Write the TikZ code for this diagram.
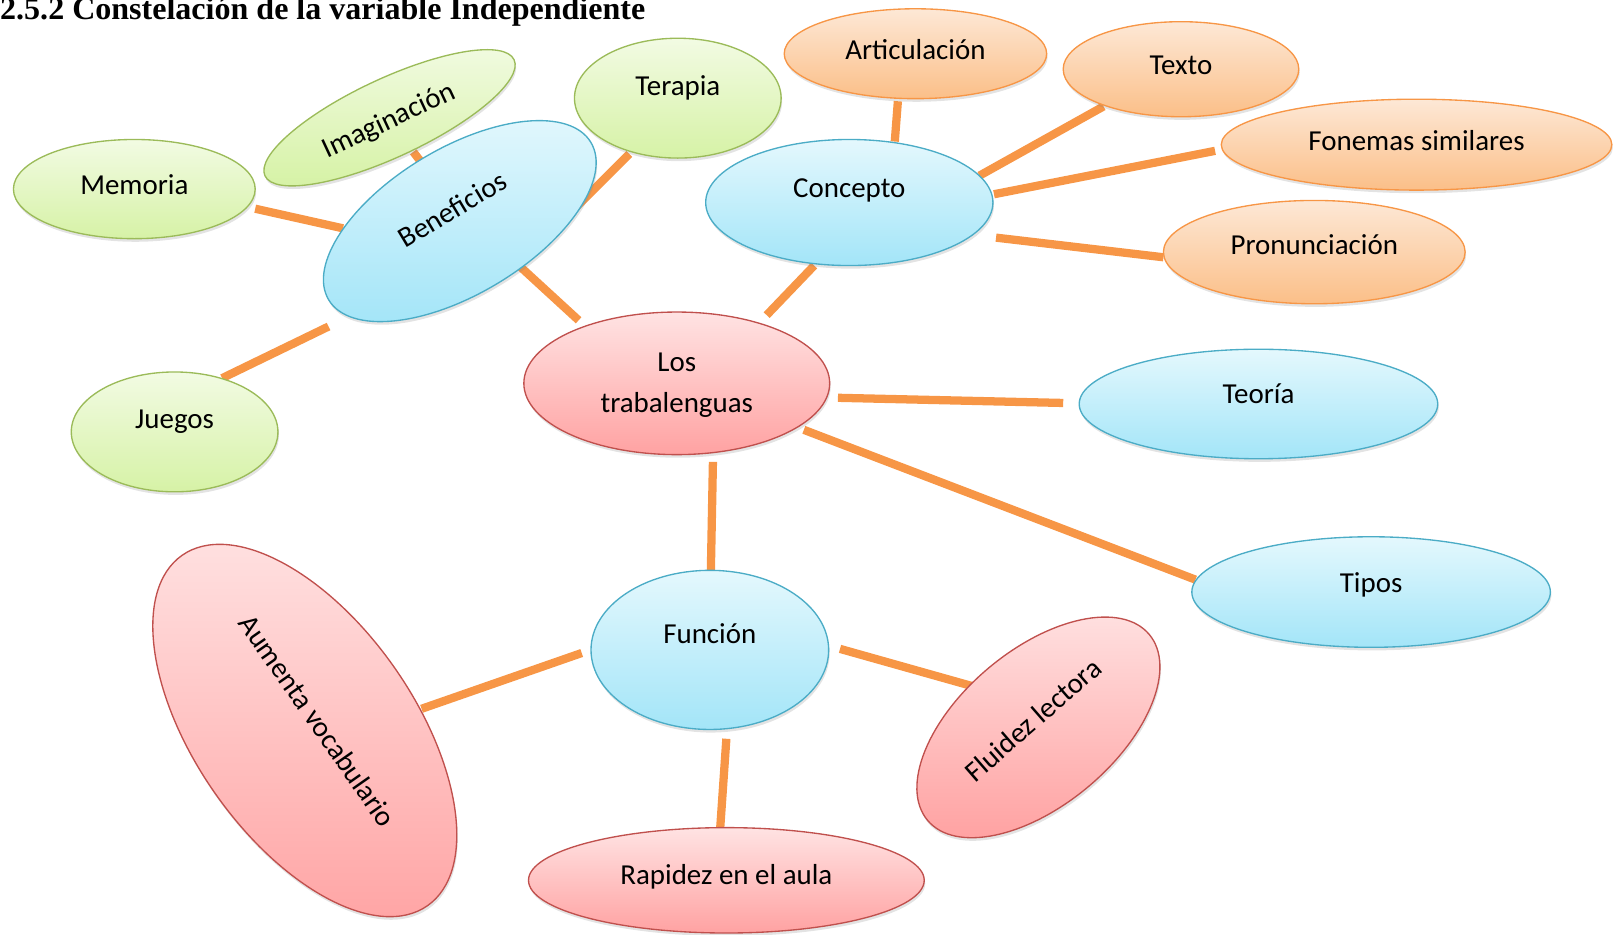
\documentclass[tikz,border=0pt]{standalone}
\usepackage{fontspec}
\setmainfont{Carlito}
\newfontfamily\titlefont{Liberation Serif}
\usetikzlibrary{shapes.geometric,shadows,backgrounds}
\definecolor{lnkC}{HTML}{F79646}
\definecolor{grnD}{HTML}{9BBB59}
\definecolor{grnT}{HTML}{F2FBE3}
\definecolor{grnB}{HTML}{D6F2A6}
\definecolor{bluD}{HTML}{4BACC6}
\definecolor{bluT}{HTML}{E4F8FD}
\definecolor{bluB}{HTML}{A3E5F8}
\definecolor{orgD}{HTML}{F79646}
\definecolor{orgT}{HTML}{FDE8D6}
\definecolor{orgB}{HTML}{FBBF88}
\definecolor{redD}{HTML}{C0504D}
\definecolor{redT}{HTML}{FFE3E3}
\definecolor{redB}{HTML}{FFA2A2}
\begin{document}
\begin{tikzpicture}[x=1pt,y=-1pt,
  elli/.style={ellipse, inner sep=0pt, line width=1.3pt,
    drop shadow={shadow xshift=1pt, shadow yshift=-3pt, opacity=0.22}},
  grn/.style={elli, draw=grnD, top color=grnT, bottom color=grnB},
  blu/.style={elli, draw=bluD, top color=bluT, bottom color=bluB},
  org/.style={elli, draw=orgD, top color=orgT, bottom color=orgB},
  red/.style={elli, draw=redD, top color=redT, bottom color=redB},
  sz/.style 2 args={minimum width=#1pt, minimum height=#2pt},
  txt/.style={inner sep=0pt, font=\fontsize{28}{40}\selectfont, text height=18pt, text depth=0pt},
  lnk/.style={draw=lnkC, line width=8pt},
]
\useasboundingbox (0,0) rectangle (1565,904);

\node[anchor=base west, inner sep=0pt, font=\titlefont\bfseries\fontsize{31}{36}\selectfont] (title) at (0,19) {2.5.2 Constelación de la variable Independiente};

% ellipses
\node[grn, sz={234}{96}] (mem) at (130,183) {};
\node[grn, sz={266}{76}, rotate=25] (ima) at (377,114) {};
\node[grn, sz={200}{116}] (ter) at (656,95) {};
\node[blu, sz={296}{141}, rotate=31] (ben) at (445,214) {};
\node[grn, sz={200}{116}] (jue) at (169,418) {};
\node[org, sz={254}{87}] (art) at (886,52) {};
\node[org, sz={228}{92}] (tex) at (1143,67) {};
\node[org, sz={378}{88}] (fon) at (1371,140) {};
\node[org, sz={292}{100}] (pro) at (1272,244) {};
\node[blu, sz={278}{122}] (con) at (822,196) {};
\node[red, sz={296}{138}] (los) at (655,371) {};
\node[blu, sz={347}{106}] (teo) at (1218,391) {};
\node[blu, sz={347}{107}] (tip) at (1327,573) {};
\node[blu, sz={230}{154}] (fun) at (687,629) {};
\node[red, sz={414}{212}, rotate=-55] (aum) at (295,707) {};
\node[red, sz={280}{150}, rotate=40] (flu) at (1005,704) {};
\node[red, sz={383}{102}] (rap) at (703,852) {};

% texts
\node[txt] (mem-t) at (130,179) {Memoria};
\node[txt, rotate=25] (ima-t) at (376,116) {Imaginación};
\node[txt] (ter-t) at (656,83) {Terapia};
\node[txt, rotate=31] (ben-t) at (438,203) {Beneficios};
\node[txt] (jue-t) at (169,406) {Juegos};
\node[txt] (art-t) at (886,49) {Articulación};
\node[txt] (tex-t) at (1143,63) {Texto};
\node[txt] (fon-t) at (1371,137) {Fonemas similares};
\node[txt] (pro-t) at (1272,237) {Pronunciación};
\node[txt] (con-t) at (822,182) {Concepto};
\node[inner sep=0pt, align=center, font=\fontsize{28}{40}\selectfont] (los-t) at (655,373) {Los\\trabalenguas};
\node[txt] (teo-t) at (1218,382) {Teoría};
\node[txt] (tip-t) at (1327,564) {Tipos};
\node[txt] (fun-t) at (687,614) {Función};
\node[txt, rotate=-55] (aum-t) at (307,698) {Aumenta vocabulario};
\node[txt, rotate=41] (flu-t) at (1000,697) {Fluidez lectora};
\node[txt] (rap-t) at (703,847) {Rapidez en el aula};

% connectors
\begin{scope}[on background layer]
\draw[lnk] ([shift={(117,19)}]mem.center) -- ([shift={(-113,7)}]ben.center);
\draw[lnk] ([shift={(23,33)}]ima.center) -- ([shift={(-35,-54)}]ben.center);
\draw[lnk] ([shift={(-47,54)}]ter.center) -- ([shift={(111,-12)}]ben.center);
\draw[lnk] ([shift={(46,-52)}]jue.center) -- ([shift={(-127,102)}]ben.center);
\draw[lnk] ([shift={(54,40)}]ben.center) -- ([shift={(-95,-61)}]los.center);
\draw[lnk] ([shift={(-34,61)}]con.center) -- ([shift={(87,-66)}]los.center);
\draw[lnk] ([shift={(-17,46)}]art.center) -- ([shift={(44,-59)}]con.center);
\draw[lnk] ([shift={(-75,36)}]tex.center) -- ([shift={(126,-26)}]con.center);
\draw[lnk] ([shift={(-195,6)}]fon.center) -- ([shift={(140,-8)}]con.center);
\draw[lnk] ([shift={(-146,5)}]pro.center) -- ([shift={(142,34)}]con.center);
\draw[lnk] ([shift={(156,14)}]los.center) -- ([shift={(-189,-1)}]teo.center);
\draw[lnk] ([shift={(123,45)}]los.center) -- ([shift={(-170,-12)}]tip.center);
\draw[lnk] ([shift={(35,76)}]los.center) -- ([shift={(1,-77)}]fun.center);
\draw[lnk] ([shift={(-124,3)}]fun.center) -- ([shift={(113,-21)}]aum.center);
\draw[lnk] ([shift={(126,-1)}]fun.center) -- ([shift={(-50,-36)}]flu.center);
\draw[lnk] ([shift={(16,86)}]fun.center) -- ([shift={(-6,-50)}]rap.center);
\end{scope}
\end{tikzpicture}
\end{document}
